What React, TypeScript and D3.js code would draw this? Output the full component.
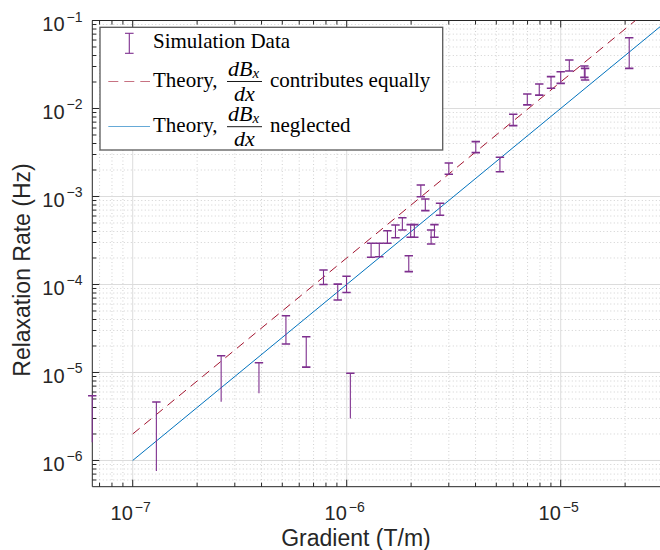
import React from "react";
import * as d3 from "d3";

// ---- data ----
const simX = [6.47e-8, 1.29e-7, 2.59e-7, 3.89e-7, 5.2e-7, 6.47e-7, 7.79e-7, 9.08e-7, 9.98e-7, 1.04e-6,
  1.30e-6, 1.42e-6, 1.55e-6, 1.69e-6, 1.82e-6, 1.95e-6, 1.99e-6, 2.07e-6, 2.22e-6, 2.33e-6,
  2.48e-6, 2.57e-6, 2.73e-6, 3.0e-6, 4.01e-6, 5.2e-6, 6.0e-6, 6.98e-6, 7.94e-6, 9.01e-6,
  1.0e-5, 1.097e-5, 1.29e-5, 1.30e-5, 2.09e-5];
const simHi = [5.45e-6, 4.62e-6, 1.55e-5, 1.29e-5, 4.42e-5, 2.55e-5, 1.46e-4, 1.01e-4, 1.24e-4, 9.8e-6,
  2.94e-4, 2.94e-4, 4.08e-4, 4.74e-4, 5.74e-4, 2.12e-4, 4.79e-4, 4.79e-4, 1.35e-3, 9.37e-4,
  4.16e-4, 4.79e-4, 8.38e-4, 2.40e-3, 4.20e-3, 2.79e-3, 8.59e-3, 1.46e-2, 1.90e-2, 2.30e-2,
  2.62e-2, 3.56e-2, 3.04e-2, 2.86e-2, 6.37e-2];
const simLo = [1.61e-6, 7.6e-7, 4.65e-6, 5.81e-6, 2.11e-5, 1.15e-5, 1.0e-4, 6.67e-5, 8.11e-5, 2.99e-6,
  2.04e-4, 2.07e-4, 2.94e-4, 3.40e-4, 4.16e-4, 1.40e-4, 3.44e-4, 3.44e-4, 9.95e-4, 6.90e-4,
  2.88e-4, 3.44e-4, 6.11e-4, 1.79e-3, 3.15e-3, 1.91e-3, 6.38e-3, 1.10e-2, 1.42e-2, 1.70e-2,
  1.93e-2, 2.67e-2, 2.26e-2, 2.11e-2, 2.86e-2];
// whether the lower bound is a defined (capped) value
const simLoDefined = [false, false, false, false, true, true, true, true, true, false,
  true, true, true, true, true, true, true, true, true, true,
  true, true, true, true, true, true, true, true, true, true,
  true, true, true, true, true];

const theoryX = [1e-7, 3.16e-5];
const theoryEqualY = [2e-6, 2e-1];
const theoryNeglectY = [1e-6, 1e-1];

const xLimits = [Math.pow(10, -7.1888), Math.pow(10, -4.5)];
const yLimits = [Math.pow(10, -6.298), 1e-1];
const xMajor = [1e-7, 1e-6, 1e-5];
const xMajorExp = ["−7", "−6", "−5"];
const yMajor = [1e-6, 1e-5, 1e-4, 1e-3, 1e-2, 1e-1];
const yMajorExp = ["−6", "−5", "−4", "−3", "−2", "−1"];

const xLabel = "Gradient (T/m)";
const yLabel = "Relaxation Rate (Hz)";
const legendSim = "Simulation Data";
const legendTheory = "Theory,";
const legendEqual = "contributes equally";
const legendNeglect = "neglected";

// ---- layout ----
const W = 660, H = 550;
const L = 92.3, T = 20.5, B = 486.7;
const R = L + (Math.log10(xLimits[1]) - Math.log10(xLimits[0])) * 214;

const PURPLE = "#7E2F8E";
const RED = "#A2142F";
const BLUE = "#0072BD";
const AX = "#262626";

function minorTicks(lim: number[]) {
  const out: number[] = [];
  const d0 = Math.floor(Math.log10(lim[0]));
  const d1 = Math.ceil(Math.log10(lim[1]));
  for (let d = d0; d <= d1; d++) {
    for (let k = 2; k <= 9; k++) {
      const v = k * Math.pow(10, d);
      if (v >= lim[0] && v <= lim[1]) out.push(v);
    }
  }
  return out;
}

function Frac({ cx, barY }: { cx: number; barY: number }) {
  return (
    <g fontFamily="'Liberation Serif', serif" fontStyle="italic" fill="#000">
      <text x={cx - 1} y={barY - 5.5} fontSize={22} textAnchor="middle">
        dB<tspan fontSize={15} dy={1.5}>x</tspan>
      </text>
      <line x1={cx - 17.5} x2={cx + 17.5} y1={barY} y2={barY} stroke="#000" strokeWidth={0.9} />
      <text x={cx} y={barY + 19.5} fontSize={22} textAnchor="middle">dx</text>
    </g>
  );
}

export default function App() {
  const x = d3.scaleLog().domain(xLimits).range([L, R]);
  const y = d3.scaleLog().domain(yLimits).range([B, T]);
  const xMinor = minorTicks(xLimits);
  const yMinor = minorTicks(yLimits);
  const line = d3.line<[number, number]>().x(d => x(d[0])).y(d => y(d[1]));
  const eq = line(theoryX.map((v, i) => [v, theoryEqualY[i]] as [number, number]));
  const ng = line(theoryX.map((v, i) => [v, theoryNeglectY[i]] as [number, number]));
  const cap = 4.2;

  return (
    <svg width={W} height={H} style={{ position: "absolute", left: 0, top: 0, background: "#fff" }}>
      <defs>
        <clipPath id="plotclip">
          <rect x={L} y={T} width={R - L} height={B - T} />
        </clipPath>
        <clipPath id="dataclip">
          <rect x={L - 8} y={T} width={R - L + 8} height={B - T} />
        </clipPath>
      </defs>
      <rect x={0} y={0} width={W} height={H} fill="#fff" />
      {/* minor grid */}
      <g stroke="#bdbdbd" strokeWidth={0.7} strokeDasharray="1,2.5">
        {xMinor.map((v, i) => (
          <line key={"xm" + i} x1={x(v)} x2={x(v)} y1={T} y2={B} />
        ))}
        {yMinor.map((v, i) => (
          <line key={"ym" + i} x1={L} x2={R} y1={y(v)} y2={y(v)} />
        ))}
      </g>
      {/* major grid */}
      <g stroke="#dcdcdc" strokeWidth={1}>
        {xMajor.map((v, i) => (
          <line key={"xM" + i} x1={x(v)} x2={x(v)} y1={T} y2={B} />
        ))}
        {yMajor.map((v, i) => (
          <line key={"yM" + i} x1={L} x2={R} y1={y(v)} y2={y(v)} />
        ))}
      </g>
      {/* axes frame */}
      <g stroke={AX} strokeWidth={1} fill="none">
        <line x1={L} x2={L} y1={T} y2={B} />
        <line x1={L} x2={R} y1={B} y2={B} />
        <line x1={L} x2={R} y1={T} y2={T} />
        <line x1={R} x2={R} y1={T} y2={B} />
        {xMajor.map((v, i) => (
          <g key={"xt" + i}>
            <line x1={x(v)} x2={x(v)} y1={B} y2={B - 7} />
            <line x1={x(v)} x2={x(v)} y1={T} y2={T + 7} />
          </g>
        ))}
        {xMinor.map((v, i) => (
          <g key={"xmt" + i}>
            <line x1={x(v)} x2={x(v)} y1={B} y2={B - 4} />
            <line x1={x(v)} x2={x(v)} y1={T} y2={T + 4} />
          </g>
        ))}
        {yMajor.map((v, i) => (
          <g key={"yt" + i}>
            <line x1={L} x2={L + 7} y1={y(v)} y2={y(v)} />
            <line x1={R} x2={R - 7} y1={y(v)} y2={y(v)} />
          </g>
        ))}
        {yMinor.map((v, i) => (
          <g key={"ymt" + i}>
            <line x1={L} x2={L + 4} y1={y(v)} y2={y(v)} />
            <line x1={R} x2={R - 4} y1={y(v)} y2={y(v)} />
          </g>
        ))}
      </g>
      {/* data */}
      <g clipPath="url(#plotclip)">
        <path d={eq || ""} fill="none" stroke={RED} strokeWidth={1} strokeDasharray="9,6" />
        <path d={ng || ""} fill="none" stroke={BLUE} strokeWidth={1} />
      </g>
      <g clipPath="url(#dataclip)" stroke={PURPLE} strokeWidth={1.1}>
        {simX.map((v, i) => {
          const px = x(v);
          const yh = y(simHi[i]);
          const yl = y(simLo[i]);
          return (
            <g key={"e" + i}>
              <line x1={px} x2={px} y1={yh} y2={yl} />
              <line x1={px - cap} x2={px + cap} y1={yh} y2={yh} strokeWidth={1.6} />
              {simLoDefined[i] && (
                <line x1={px - cap} x2={px + cap} y1={yl} y2={yl} strokeWidth={1.6} />
              )}
            </g>
          );
        })}
      </g>
      {/* tick labels */}
      <g fontFamily="'Liberation Sans', Arial, sans-serif" fill={AX}>
        {xMajor.map((v, i) => (
          <text key={"xl" + i} x={x(v) - 2} y={520} fontSize={20} textAnchor="middle">
            10<tspan fontSize={14} dx={2} dy={-8.5}>{xMajorExp[i]}</tspan>
          </text>
        ))}
        {yMajor.map((v, i) => (
          <text key={"yl" + i} x={82.5} y={y(v) + 10.5} fontSize={20} textAnchor="end">
            10<tspan fontSize={14} dx={2} dy={-9.5}>{yMajorExp[i]}</tspan>
          </text>
        ))}
        <text x={356} y={546} fontSize={23} textAnchor="middle">{xLabel}</text>
        <text transform="translate(30,270) rotate(-90)" fontSize={23} textAnchor="middle">{yLabel}</text>
      </g>
      {/* legend */}
      <g>
        <rect x={100} y={27.3} width={342.7} height={122.7} fill="#fff" stroke="#5a5a5a" strokeWidth={1.3} />
        <g stroke={PURPLE} strokeWidth={1.1}>
          <line x1={129.3} x2={129.3} y1={33.3} y2={53.3} />
          <line x1={125} x2={133.6} y1={33.3} y2={33.3} />
          <line x1={125} x2={133.6} y1={53.3} y2={53.3} />
        </g>
        <line x1={108.3} x2={150} y1={81.5} y2={81.5} stroke={RED} strokeOpacity={0.6} strokeWidth={1.2} strokeDasharray="10,6" />
        <line x1={108.3} x2={150} y1={126.5} y2={126.5} stroke={BLUE} strokeOpacity={0.6} strokeWidth={1.2} />
        <g fontFamily="'Liberation Serif', serif" fontSize={21} fill="#000">
          <text x={153} y={48.3}>{legendSim}</text>
          <text x={153} y={86.5}>{legendTheory}</text>
          <text x={270} y={86.5}>{legendEqual}</text>
          <text x={153} y={131.7}>{legendTheory}</text>
          <text x={270} y={131.7}>{legendNeglect}</text>
        </g>
        <Frac cx={244.5} barY={81.5} />
        <Frac cx={244.5} barY={126.7} />
      </g>
    </svg>
  );
}
